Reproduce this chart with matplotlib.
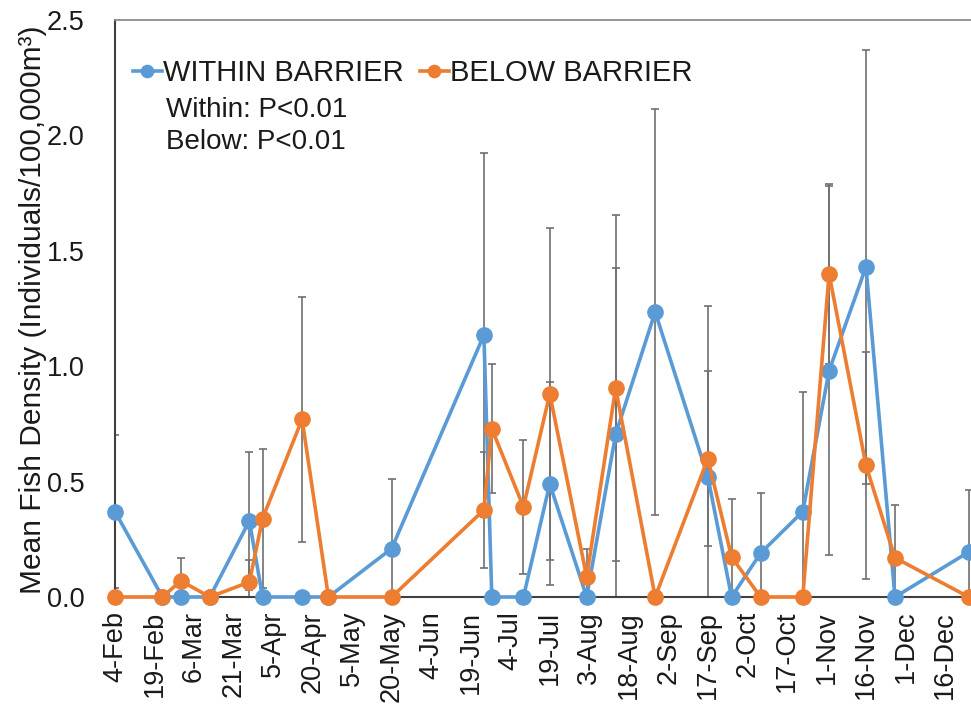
import matplotlib
matplotlib.use("Agg")
import matplotlib.pyplot as plt
import numpy as np
import pandas as pd

plt.rcParams['font.family'] = ['Liberation Sans', 'DejaVu Sans']

# ---- data ----
dates = ["2015-02-04", "2015-02-22", "2015-03-01", "2015-03-12", "2015-03-27",
         "2015-04-01", "2015-04-16", "2015-04-26", "2015-05-20", "2015-06-24",
         "2015-06-27", "2015-07-09", "2015-07-19", "2015-08-02", "2015-08-13",
         "2015-08-28", "2015-09-17", "2015-09-26", "2015-10-07", "2015-10-23",
         "2015-11-02", "2015-11-16", "2015-11-27", "2015-12-25"]
within = [0.37, 0.0, 0.0, 0.0, 0.33, 0.0, 0.0, 0.0, 0.21, 1.135,
          0.0, 0.0, 0.49, 0.0, 0.705, 1.235, 0.52, 0.0, 0.19, 0.37,
          0.98, 1.43, 0.0, 0.195]
within_err = [0.33, 0.0, 0.0, 0.0, 0.30, 0.0, 0.0, 0.0, 0.30, 0.79,
              0.0, 0.0, 0.44, 0.0, 0.72, 0.88, 0.74, 0.0, 0.26, 0.52,
              0.80, 0.94, 0.0, 0.27]
below = [0.0, 0.0, 0.07, 0.0, 0.065, 0.34, 0.77, 0.0, 0.0, 0.377,
         0.73, 0.39, 0.88, 0.087, 0.905, 0.0, 0.60, 0.173, 0.0, 0.0,
         1.40, 0.57, 0.17, 0.0]
below_err = [0.0, 0.0, 0.10, 0.0, 0.095, 0.30, 0.53, 0.0, 0.0, 0.25,
             0.28, 0.29, 0.72, 0.12, 0.75, 0.0, 0.38, 0.25, 0.0, 0.0,
             0.39, 0.49, 0.23, 0.0]
tick_start = "2015-02-04"
tick_step_days = 15
n_ticks = 22
y_ticks = [0.0, 0.5, 1.0, 1.5, 2.0, 2.5]

x = pd.to_datetime(dates)
ticks = pd.date_range(tick_start, periods=n_ticks, freq=f"{tick_step_days}D")

BLUE = "#5B9BD5"
ORANGE = "#ED7D31"
ERR = "#707070"

AX_W_PX = 332 * 2.635
fig = plt.figure(figsize=(9.71, 7.08), dpi=100)
ax = fig.add_axes([115/971, 111/708, AX_W_PX/971, 577/708])

# error bars
ax.errorbar(x, within, yerr=within_err, fmt='none', ecolor=ERR, elinewidth=1.2,
            capsize=3, capthick=1.2, zorder=2)
ax.errorbar(x, below, yerr=below_err, fmt='none', ecolor=ERR, elinewidth=1.2,
            capsize=3, capthick=1.2, zorder=2)

ax.plot(x, within, '-o', color=BLUE, lw=2.6, ms=11, mec=BLUE, mfc=BLUE,
        label="WITHIN BARRIER", clip_on=False, zorder=3)
ax.plot(x, below, '-o', color=ORANGE, lw=2.6, ms=11, mec=ORANGE, mfc=ORANGE,
        label="BELOW BARRIER", clip_on=False, zorder=4)

ax.set_xlim(pd.Timestamp(tick_start), pd.Timestamp(tick_start) + pd.Timedelta(days=332))
ax.set_ylim(0, 2.5)
ax.set_yticks(y_ticks)
ax.set_yticklabels([f"{v:.1f}" for v in y_ticks])
ax.set_xticks(ticks)
ax.set_xticklabels([f"{d.day}-{d.strftime('%b')}" for d in ticks], rotation=90)
ax.tick_params(axis='y', length=0, pad=22, labelsize=19.5, colors='#1a1a1a')
ax.tick_params(axis='x', length=0, pad=10, labelsize=19.5, colors='#1a1a1a')

for s in ['top', 'right']:
    ax.spines[s].set_color('#8c8c8c')
    ax.spines[s].set_linewidth(1.3)
for s in ['left', 'bottom']:
    ax.spines[s].set_color('#404040')
    ax.spines[s].set_linewidth(1.5)

ax.set_ylabel("Mean Fish Density (Individuals/100,000m³)", fontsize=21.5,
              color='#1a1a1a')
ax.yaxis.set_label_coords(-68 / AX_W_PX, 0.497)

leg = ax.legend(loc='upper left', bbox_to_anchor=(0.0, 0.963), ncol=2, frameon=False,
                fontsize=21, handlelength=1.0, handletextpad=0.05, columnspacing=0.55,
                borderaxespad=0.2, markerscale=0.8)
for t in leg.get_texts():
    t.set_color('#1a1a1a')

ax.text(51 / AX_W_PX, 1 - 90/577, "Within: P<0.01", transform=ax.transAxes,
        fontsize=20, va='center', ha='left', color='#1a1a1a')
ax.text(51 / AX_W_PX, 1 - 122/577, "Below: P<0.01", transform=ax.transAxes,
        fontsize=20, va='center', ha='left', color='#1a1a1a')

fig.savefig("out.png", dpi=100)
